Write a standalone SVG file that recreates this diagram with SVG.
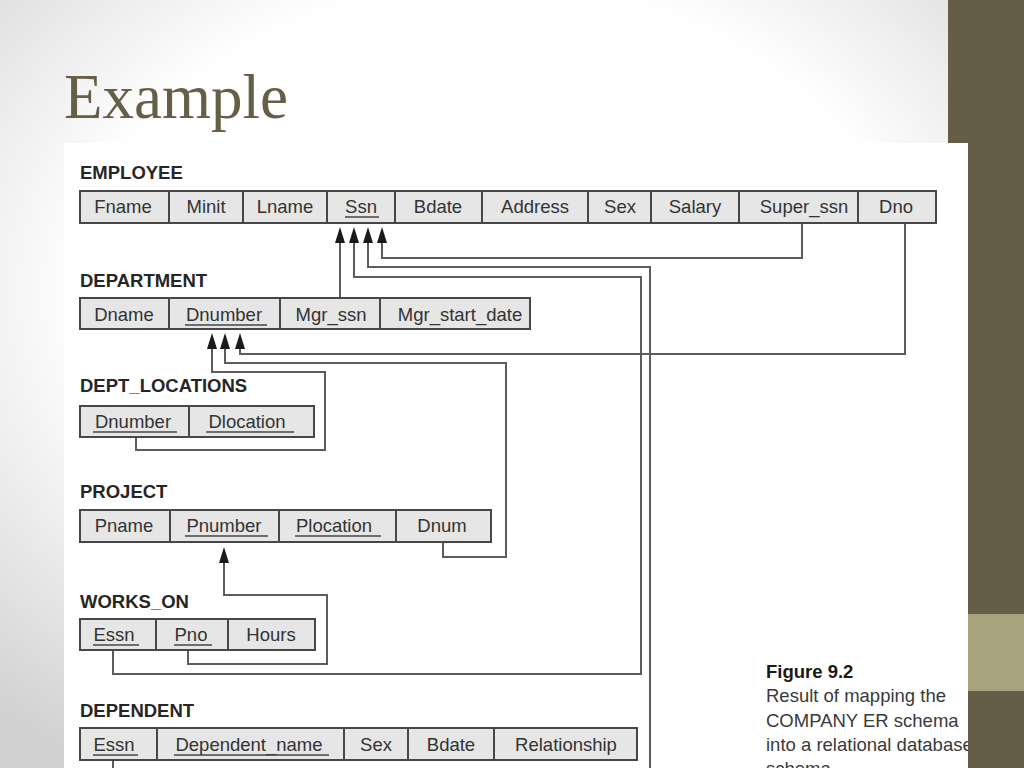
<svg xmlns="http://www.w3.org/2000/svg" width="1024" height="768" viewBox="0 0 1024 768">
<defs>
<radialGradient id="bg" cx="48%" cy="38%" r="72%">
<stop offset="0" stop-color="#ffffff"/>
<stop offset="0.55" stop-color="#ffffff"/>
<stop offset="1" stop-color="#d2d2d2"/>
</radialGradient>
<marker id="arr" markerUnits="userSpaceOnUse" markerWidth="16" markerHeight="10" refX="8" refY="5" orient="auto" overflow="visible">
<path d="M0,0 L16,5 L0,10 Z" fill="#1a1a1a"/>
</marker>
<style>
.title{font-family:"Liberation Serif","Times New Roman",serif;font-size:63px;fill:#675e46}
.hd{font-family:"Liberation Sans",Arial,sans-serif;font-size:18.5px;font-weight:bold;fill:#262626}
.ct{font-family:"Liberation Sans",Arial,sans-serif;font-size:18.5px;fill:#333;text-anchor:middle}
.cell{fill:#e6e6e6;stroke:#474747;stroke-width:2}
.ul{stroke:#444;stroke-width:1.6}
.cn{fill:none;stroke:#5c5c5c;stroke-width:2}
.cap{font-family:"Liberation Sans",Arial,sans-serif;font-size:18.5px;fill:#3a3a3a}
.capb{font-family:"Liberation Sans",Arial,sans-serif;font-size:18.5px;font-weight:bold;fill:#1a1a1a}
</style>
</defs>
<rect x="0" y="0" width="1024" height="768" fill="url(#bg)"/>
<rect x="948" y="0" width="76" height="768" fill="#655d46"/>
<text class="title" x="64" y="118">Example</text>
<rect x="64" y="143" width="904" height="625" fill="#ffffff"/>

<g id="connectors">
<path class="cn" d="M340,298 V235" marker-end="url(#arr)"/>
<path class="cn" d="M113,651 V674 H641 V277 H354 V235" marker-end="url(#arr)"/>
<path class="cn" d="M113,761 V780 H650 V267 H368 V235" marker-end="url(#arr)"/>
<path class="cn" d="M802,224 V258 H382 V235" marker-end="url(#arr)"/>
<path class="cn" d="M136,438 V450 H325 V372 H212 V341" marker-end="url(#arr)"/>
<path class="cn" d="M443,543 V557 H506 V363 H225 V341" marker-end="url(#arr)"/>
<path class="cn" d="M905,224 V354 H240 V341" marker-end="url(#arr)"/>
<path class="cn" d="M188,651 V664 H327 V595 H224 V555" marker-end="url(#arr)"/>
</g>

<g id="employee">
<text class="hd" x="80" y="179">EMPLOYEE</text>
<rect class="cell" x="80" y="191" width="89" height="32"/>
<rect class="cell" x="169" y="191" width="74" height="32"/>
<rect class="cell" x="243" y="191" width="84" height="32"/>
<rect class="cell" x="327" y="191" width="68" height="32"/>
<rect class="cell" x="395" y="191" width="87" height="32"/>
<rect class="cell" x="482" y="191" width="106" height="32"/>
<rect class="cell" x="588" y="191" width="63" height="32"/>
<rect class="cell" x="651" y="191" width="88" height="32"/>
<rect class="cell" x="739" y="191" width="119" height="32"/>
<rect class="cell" x="858" y="191" width="78" height="32"/>
<text class="ct" x="123" y="213">Fname</text>
<text class="ct" x="206" y="213">Minit</text>
<text class="ct" x="285" y="213">Lname</text>
<text class="ct" x="361" y="213">Ssn</text>
<line class="ul" x1="345" y1="217" x2="379" y2="217"/>
<text class="ct" x="438" y="213">Bdate</text>
<text class="ct" x="535" y="213">Address</text>
<text class="ct" x="620" y="213">Sex</text>
<text class="ct" x="695" y="213">Salary</text>
<text class="ct" x="804" y="213">Super_ssn</text>
<text class="ct" x="896" y="213">Dno</text>
</g>

<g id="department">
<text class="hd" x="80" y="287">DEPARTMENT</text>
<rect class="cell" x="80" y="298" width="89" height="31"/>
<rect class="cell" x="169" y="298" width="111" height="31"/>
<rect class="cell" x="280" y="298" width="100" height="31"/>
<rect class="cell" x="380" y="298" width="150" height="31"/>
<text class="ct" x="124" y="321">Dname</text>
<text class="ct" x="224" y="321">Dnumber</text>
<line class="ul" x1="185" y1="325" x2="267" y2="325"/>
<text class="ct" x="331" y="321">Mgr_ssn</text>
<text class="ct" x="460" y="321">Mgr_start_date</text>
</g>

<g id="dept_locations">
<text class="hd" x="80" y="392">DEPT_LOCATIONS</text>
<rect class="cell" x="80" y="406" width="109" height="31"/>
<rect class="cell" x="189" y="406" width="125" height="31"/>
<text class="ct" x="133" y="428">Dnumber</text>
<line class="ul" x1="93" y1="432" x2="177" y2="432"/>
<text class="ct" x="247" y="428">Dlocation</text>
<line class="ul" x1="206" y1="432" x2="294" y2="432"/>
</g>

<g id="project">
<text class="hd" x="80" y="498">PROJECT</text>
<rect class="cell" x="80" y="510" width="90" height="32"/>
<rect class="cell" x="170" y="510" width="109" height="32"/>
<rect class="cell" x="279" y="510" width="117" height="32"/>
<rect class="cell" x="396" y="510" width="95" height="32"/>
<text class="ct" x="124" y="532">Pname</text>
<text class="ct" x="224" y="532">Pnumber</text>
<line class="ul" x1="185" y1="536" x2="268" y2="536"/>
<text class="ct" x="334" y="532">Plocation</text>
<line class="ul" x1="295" y1="536" x2="381" y2="536"/>
<text class="ct" x="442" y="532">Dnum</text>
</g>

<g id="works_on">
<text class="hd" x="80" y="608">WORKS_ON</text>
<rect class="cell" x="80" y="619" width="76" height="31"/>
<rect class="cell" x="156" y="619" width="72" height="31"/>
<rect class="cell" x="228" y="619" width="87" height="31"/>
<text class="ct" x="114" y="641">Essn</text>
<line class="ul" x1="93" y1="645" x2="139" y2="645"/>
<text class="ct" x="191" y="641">Pno</text>
<line class="ul" x1="174" y1="645" x2="212" y2="645"/>
<text class="ct" x="271" y="641">Hours</text>
</g>

<g id="dependent">
<text class="hd" x="80" y="717">DEPENDENT</text>
<rect class="cell" x="80" y="728" width="77" height="32"/>
<rect class="cell" x="157" y="728" width="187" height="32"/>
<rect class="cell" x="344" y="728" width="64" height="32"/>
<rect class="cell" x="408" y="728" width="86" height="32"/>
<rect class="cell" x="494" y="728" width="143" height="32"/>
<text class="ct" x="114" y="751">Essn</text>
<line class="ul" x1="93" y1="755" x2="138" y2="755"/>
<text class="ct" x="249" y="751">Dependent_name</text>
<line class="ul" x1="174" y1="755" x2="329" y2="755"/>
<text class="ct" x="376" y="751">Sex</text>
<text class="ct" x="451" y="751">Bdate</text>
<text class="ct" x="566" y="751">Relationship</text>
</g>

<g id="caption">
<text class="capb" x="766" y="678">Figure 9.2</text>
<text class="cap" x="766" y="702">Result of mapping the</text>
<text class="cap" x="766" y="727">COMPANY ER schema</text>
<text class="cap" x="766" y="751">into a relational database</text>
<text class="cap" x="766" y="775">schema</text>
</g>

<rect x="968" y="143" width="56" height="625" fill="#655d46"/>
<rect x="968" y="614" width="56" height="77" fill="#a9a37d"/>
</svg>
